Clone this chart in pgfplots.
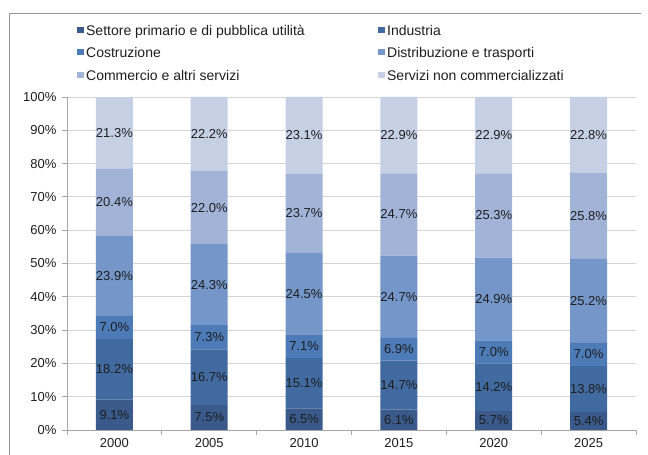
\documentclass[border=0pt]{standalone}
\usepackage{fontspec}
\setmainfont{Liberation Sans}
\usepackage{pgfplots}
\pgfplotsset{compat=1.18}
\definecolor{cA}{HTML}{3A5A8C}
\definecolor{cB}{HTML}{416AA0}
\definecolor{cC}{HTML}{4D7BB8}
\definecolor{cD}{HTML}{7496C9}
\definecolor{cE}{HTML}{A1B4D8}
\definecolor{cF}{HTML}{C6D0E4}
\definecolor{gridc}{HTML}{D4D4D4}
\definecolor{axc}{HTML}{A6A6A6}
\definecolor{txt}{HTML}{1E1E1E}
\begin{document}
\begin{tikzpicture}
\useasboundingbox (0pt,0pt) rectangle (648pt,455pt);
\draw[color=axc!90!black, line width=0.8pt] (9.5pt,0pt) -- (9.5pt,442pt) -- (641pt,442pt);
\begin{axis}[
  at={(67pt,25pt)}, anchor=south west,
  scale only axis, width=569pt, height=333pt,
  ybar stacked, bar width=37pt,
  xmin=-0.5, xmax=5.5, ymin=0, ymax=100,
  axis x line*=bottom, axis y line*=left,
  axis line style={axc, line width=0.8pt, -},
  xtick={0,1,2,3,4,5},
  xticklabels={2000,2005,2010,2015,2020,2025},
  major x tick style={draw=none},
  minor xtick={-0.5,0.5,1.5,2.5,3.5,4.5,5.5},
  minor x tick style={axc, line width=0.8pt},
  minor tick length=5pt,
  ytick={0,10,...,100},
  yticklabel={\pgfmathprintnumber{\tick}\%},
  yticklabel style={xshift=-2pt},
  /pgf/number format/assume math mode=true,
  ytick style={axc, line width=0.8pt},
  major tick length=5pt,
  tick align=outside,
  ymajorgrids, grid style={gridc, line width=0.8pt},
  tick label style={font=\fontsize{13}{15}\selectfont, text=txt},
  legend columns=2,
  legend cell align=left,
  legend style={at={(rel axis cs:0.0175,1.222)}, anchor=north west, draw=none, fill=none,
     font=\fontsize{14}{16}\selectfont, text=txt, row sep=0pt, inner sep=0pt,
     nodes={text height=10pt, text depth=8.5pt}},
  legend image code/.code={\fill[#1] (0pt,1.9pt) rectangle (7pt,7.9pt);},
]
\addplot[fill=cA, draw=none] coordinates {(0,9.1) (1,7.5) (2,6.5) (3,6.1) (4,5.7) (5,5.4)};
\addlegendentry{\makebox[290pt][l]{Settore primario e di pubblica utilità}}
\addplot[fill=cB, draw=none] coordinates {(0,18.2) (1,16.7) (2,15.1) (3,14.7) (4,14.2) (5,13.8)};
\addlegendentry{Industria}
\addplot[fill=cC, draw=none] coordinates {(0,7.0) (1,7.3) (2,7.1) (3,6.9) (4,7.0) (5,7.0)};
\addlegendentry{\makebox[290pt][l]{Costruzione}}
\addplot[fill=cD, draw=none] coordinates {(0,23.9) (1,24.3) (2,24.5) (3,24.7) (4,24.9) (5,25.2)};
\addlegendentry{Distribuzione e trasporti}
\addplot[fill=cE, draw=none] coordinates {(0,20.4) (1,22.0) (2,23.7) (3,24.7) (4,25.3) (5,25.8)};
\addlegendentry{\makebox[290pt][l]{Commercio e altri servizi}}
\addplot[fill=cF, draw=none] coordinates {(0,21.3) (1,22.2) (2,23.1) (3,22.9) (4,22.9) (5,22.8)};
\addlegendentry{Servizi non commercializzati}
\end{axis}
\begin{axis}[
  at={(67pt,25pt)}, anchor=south west,
  scale only axis, width=569pt, height=333pt,
  xmin=-0.5, xmax=5.5, ymin=0, ymax=100,
  hide axis,
  /pgf/number format/assume math mode=true,
]
\addplot[draw=none, mark=none, point meta=explicit,
  nodes near coords={\pgfmathprintnumber[fixed,fixed zerofill,precision=1,assume math mode=true]{\pgfplotspointmeta}\%},
  every node near coord/.append style={anchor=center, font=\fontsize{13}{15}\selectfont, text=txt, inner sep=0pt},
] table[x=x, y=y, meta=v] {
x y v
0 4.55 9.1
0 18.2 18.2
0 30.8 7.0
0 46.25 23.9
0 68.4 20.4
0 89.25 21.3
1 3.75 7.5
1 15.85 16.7
1 27.85 7.3
1 43.65 24.3
1 66.8 22.0
1 88.9 22.2
2 3.25 6.5
2 14.05 15.1
2 25.15 7.1
2 40.95 24.5
2 65.05 23.7
2 88.45 23.1
3 3.05 6.1
3 13.45 14.7
3 24.25 6.9
3 40.05 24.7
3 64.75 24.7
3 88.55 22.9
4 2.85 5.7
4 12.8 14.2
4 23.4 7.0
4 39.35 24.9
4 64.45 25.3
4 88.55 22.9
5 2.7 5.4
5 12.3 13.8
5 22.7 7.0
5 38.8 25.2
5 64.3 25.8
5 88.6 22.8
};
\end{axis}
\end{tikzpicture}
\end{document}
